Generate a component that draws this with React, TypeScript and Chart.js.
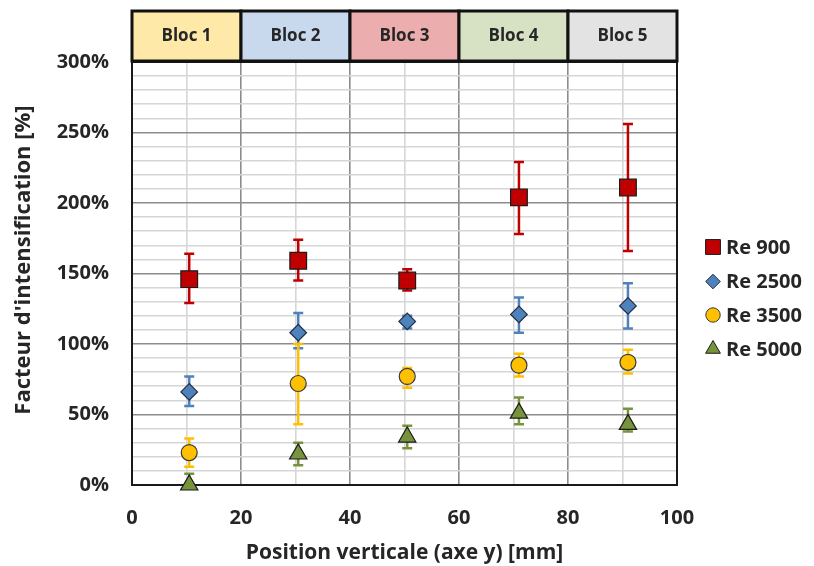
import React, { useEffect, useRef } from 'react';
import { Chart, registerables } from 'chart.js';
import { drawPoint } from 'chart.js/helpers';

Chart.register(...registerables);

// ---- Data ----
const positions = [10.5, 30.5, 50.5, 71, 91];

const seriesNames = ['Re 900', 'Re 2500', 'Re 3500', 'Re 5000'];

const re900 = [146, 159, 145, 204, 211];
const re900Hi = [164, 174, 153, 229, 256];
const re900Lo = [129, 145, 138, 178, 166];

const re2500 = [66, 108, 116, 121, 127];
const re2500Hi = [77, 122, 120, 133, 143];
const re2500Lo = [56, 97, 111, 108, 111];

const re3500 = [23, 72, 77, 85, 87];
const re3500Hi = [33, 100, 83, 93, 96];
const re3500Lo = [13, 43, 69, 77, 79];

const re5000 = [0, 22, 34, 51, 43];
const re5000Hi = [8, 30, 42, 62, 54];
const re5000Lo = [-8, 14, 26, 43, 38];

const blocLabels = ['Bloc 1', 'Bloc 2', 'Bloc 3', 'Bloc 4', 'Bloc 5'];
const blocStarts = [0, 20, 40, 60, 80];
const blocEnds = [20, 40, 60, 80, 100];

const xTitle = 'Position verticale (axe y) [mm]';
const yTitle = "Facteur d'intensification [%]";

// ---- Styles ----
const FONT = '"Open Sans", Lato, sans-serif';
const TEXT = '#262626';
const blocColors = ['#FFE9A9', '#C8D9EE', '#EBADAD', '#D6E2C3', '#E3E3E3'];
const seriesStyle = [
  { pointStyle: 'rect', fill: '#C00000', border: '#1a1a1a', radius: 11.8, err: '#C00000', legendRadius: 10.5 },
  { pointStyle: 'rectRot', fill: '#4F81BD', border: '#1f2f45', radius: 8.3, err: '#4F81BD', legendRadius: 7.3 },
  { pointStyle: 'circle', fill: '#FFC000', border: '#3a3a3a', radius: 8, err: '#FFC000', legendRadius: 7.2 },
  { pointStyle: 'triangle', fill: '#77933C', border: '#1a1a1a', radius: 10, err: '#77933C', legendRadius: 8.5 },
];

const values = [re900, re2500, re3500, re5000];
const highs = [re900Hi, re2500Hi, re3500Hi, re5000Hi];
const lows = [re900Lo, re2500Lo, re3500Lo, re5000Lo];

const errorBarPlugin = {
  id: 'errorBars',
  beforeDatasetsDraw(chart: any) {
    const { ctx, chartArea, scales } = chart;
    const xs = scales.x;
    const ys = scales.y;
    // plot border
    ctx.save();
    ctx.strokeStyle = '#1a1a1a';
    ctx.lineWidth = 2;
    ctx.strokeRect(chartArea.left, chartArea.top, chartArea.right - chartArea.left, chartArea.bottom - chartArea.top);
    ctx.restore();

    ctx.save();
    ctx.beginPath();
    ctx.rect(chartArea.left, chartArea.top, chartArea.right - chartArea.left, chartArea.bottom - chartArea.top);
    ctx.clip();
    values.forEach((vals, si) => {
      ctx.strokeStyle = seriesStyle[si].err;
      ctx.lineWidth = 2.5;
      vals.forEach((_v, i) => {
        const x = xs.getPixelForValue(positions[i]);
        const yh = ys.getPixelForValue(highs[si][i]);
        const yl = ys.getPixelForValue(lows[si][i]);
        ctx.beginPath();
        ctx.moveTo(x, yh);
        ctx.lineTo(x, yl);
        ctx.moveTo(x - 5, yh);
        ctx.lineTo(x + 5, yh);
        ctx.moveTo(x - 5, yl);
        ctx.lineTo(x + 5, yl);
        ctx.stroke();
      });
    });
    ctx.restore();
  },
};

const headerPlugin = {
  id: 'blocHeader',
  afterDraw(chart: any) {
    const { ctx, chartArea, scales } = chart;
    const xs = scales.x;
    const top = 11;
    const bottom = chartArea.top - 1;
    ctx.save();
    blocLabels.forEach((label, i) => {
      const x0 = xs.getPixelForValue(blocStarts[i]);
      const x1 = xs.getPixelForValue(blocEnds[i]);
      ctx.fillStyle = blocColors[i];
      ctx.fillRect(x0, top, x1 - x0, bottom - top);
      ctx.strokeStyle = '#111';
      ctx.lineWidth = 3;
      ctx.strokeRect(x0, top, x1 - x0, bottom - top);
      ctx.fillStyle = TEXT;
      ctx.font = `bold 17px ${FONT}`;
      ctx.textAlign = 'center';
      ctx.textBaseline = 'middle';
      ctx.fillText(label, (x0 + x1) / 2, (top + bottom) / 2);
    });
    // y axis title (rotated), placed like the reference
    ctx.translate(24, 260);
    ctx.rotate(-Math.PI / 2);
    ctx.fillStyle = TEXT;
    ctx.font = `bold 22px ${FONT}`;
    ctx.textAlign = 'center';
    ctx.textBaseline = 'middle';
    ctx.fillText(yTitle, 0, 0);
    ctx.restore();
  },
};

const legendPlugin = {
  id: 'customLegend',
  afterDraw(chart: any) {
    const { ctx } = chart;
    const ys = [247, 281.5, 315, 349];
    ctx.save();
    seriesNames.forEach((name, i) => {
      const st = seriesStyle[i];
      ctx.fillStyle = st.fill;
      ctx.strokeStyle = st.border;
      ctx.lineWidth = 1;
      drawPoint(ctx, { pointStyle: st.pointStyle as any, radius: st.legendRadius, rotation: 0, borderWidth: 1 }, 713, ys[i]);
      ctx.fillStyle = TEXT;
      ctx.font = `bold 20px ${FONT}`;
      ctx.textAlign = 'left';
      ctx.textBaseline = 'middle';
      ctx.fillText(name, 726, ys[i] + 1);
    });
    ctx.restore();
  },
};

export default function App() {
  const canvasRef = useRef<HTMLCanvasElement | null>(null);

  useEffect(() => {
    if (!canvasRef.current) return;
    const datasets = values.map((vals, si) => ({
      label: seriesNames[si],
      data: vals.map((v, i) => ({ x: positions[i], y: v })),
      showLine: false,
      pointStyle: seriesStyle[si].pointStyle as any,
      pointRadius: seriesStyle[si].radius,
      pointHoverRadius: seriesStyle[si].radius,
      pointBackgroundColor: seriesStyle[si].fill,
      pointBorderColor: seriesStyle[si].border,
      pointBorderWidth: 1.2,
      backgroundColor: seriesStyle[si].fill,
      borderColor: seriesStyle[si].border,
      clip: false as any,
    }));

    const chart = new Chart(canvasRef.current, {
      type: 'scatter',
      data: { datasets },
      options: {
        animation: false,
        responsive: false,
        layout: { padding: { top: 62, right: 137, left: 0, bottom: 0 } },
        plugins: { legend: { display: false }, tooltip: { enabled: false } },
        scales: {
          x: {
            type: 'linear',
            min: 0,
            max: 100,
            afterFit(scale: any) { scale.height = 81; },
            ticks: {
              stepSize: 10,
              autoSkip: false,
              maxRotation: 0,
              padding: 21,
              color: TEXT,
              font: { family: FONT, size: 20, weight: 'bold' },
              callback: (v: any) => (Number(v) % 20 === 0 ? String(v) : ''),
            },
            grid: {
              drawTicks: false,
              color: (c: any) => (c.tick && c.tick.value % 20 === 0 ? '#8c8c8c' : '#d6d6d6'),
              lineWidth: 1.6,
            },
            border: { display: false },
            title: {
              display: true,
              text: xTitle,
              color: TEXT,
              font: { family: FONT, size: 21, weight: 'bold' },
              padding: { top: 0, bottom: 0 },
            },
          },
          y: {
            type: 'linear',
            min: 0,
            max: 300,
            afterFit(scale: any) { scale.width = 132; },
            ticks: {
              stepSize: 10,
              autoSkip: false,
              padding: 23,
              color: TEXT,
              font: { family: FONT, size: 20, weight: 'bold' },
              callback: (v: any) => (Number(v) % 50 === 0 ? v + '%' : ''),
            },
            grid: {
              drawTicks: false,
              color: (c: any) => (c.tick && c.tick.value % 50 === 0 ? '#8c8c8c' : '#d6d6d6'),
              lineWidth: 1.6,
            },
            border: { display: false },
            title: { display: false },
          },
        },
      },
      plugins: [errorBarPlugin, headerPlugin, legendPlugin],
    });
    return () => chart.destroy();
  }, []);

  return (
    <div style={{ position: 'fixed', left: 0, top: 0, width: 814, height: 566, background: '#fff' }}>
      <canvas ref={canvasRef} width={814} height={566} style={{ display: 'block' }} />
    </div>
  );
}
